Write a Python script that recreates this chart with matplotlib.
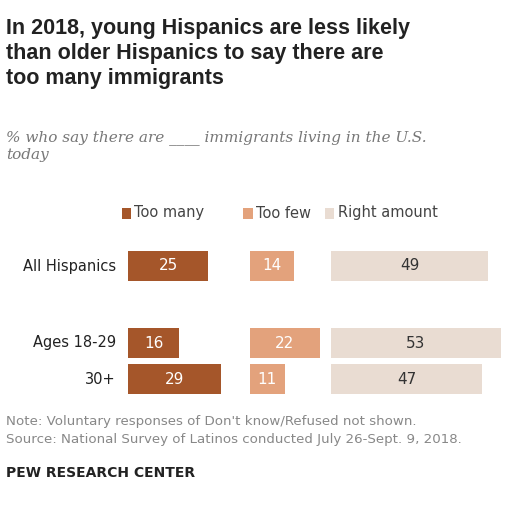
import matplotlib.pyplot as plt

groups = ["All Hispanics", "Ages 18-29", "30+"]
too_many = [25, 16, 29]
too_few = [14, 22, 11]
right_amount = [49, 53, 47]
series = ["Too many", "Too few", "Right amount"]
colors = ["#a5562a", "#e3a27c", "#e9dcd2"]

fig = plt.figure(figsize=(5.12, 5.12), dpi=100)
fig.patch.set_facecolor("white")

# axes spanning the bar area, y in pixel rows from the top
ax = fig.add_axes([128 / 512, 0, 384 / 512, 1])
ax.set_xlim(0, 384 / 3.2)
ax.set_ylim(512, 0)
ax.axis("off")

rows = [266, 343, 379]
offsets = [0, 38, 63.5]
for vals, off, col in zip([too_many, too_few, right_amount], offsets, colors):
    ax.barh(rows, vals, left=off, height=30, color=col)
    for y, v in zip(rows, vals):
        ax.text(off + v / 2, y, str(v), ha="center", va="center", fontsize=11,
                color="white" if col != colors[2] else "#333333")

for y, g in zip(rows, groups):
    fig.text(116 / 512, 1 - y / 512, g, ha="right", va="center", fontsize=10.5, color="#222222")

# legend
for off, name, col in zip(offsets, series, colors):
    ax.barh(213, 3, left=off - 2, height=11, color=col, clip_on=False)
    ax.text(off + 2, 213, name, va="center", fontsize=10.5, color="#444444")

fig.text(0.012, 0.965, "In 2018, young Hispanics are less likely\nthan older Hispanics to say there are\ntoo many immigrants",
         ha="left", va="top", fontsize=15.5, fontweight="bold", color="#222222",
         linespacing=1.25, family="Liberation Sans")
fig.text(0.012, 0.745, "% who say there are ____ immigrants living in the U.S.\ntoday",
         ha="left", va="top", fontsize=11, style="italic", family="DejaVu Serif", color="#777777")
fig.text(0.012, 0.19, "Note: Voluntary responses of Don't know/Refused not shown.\nSource: National Survey of Latinos conducted July 26-Sept. 9, 2018.",
         ha="left", va="top", fontsize=9.6, color="#888888", linespacing=1.5)
fig.text(0.012, 0.09, "PEW RESEARCH CENTER", ha="left", va="top", fontsize=10,
         fontweight="bold", color="#222222")

fig.savefig("out.png", dpi=100)
